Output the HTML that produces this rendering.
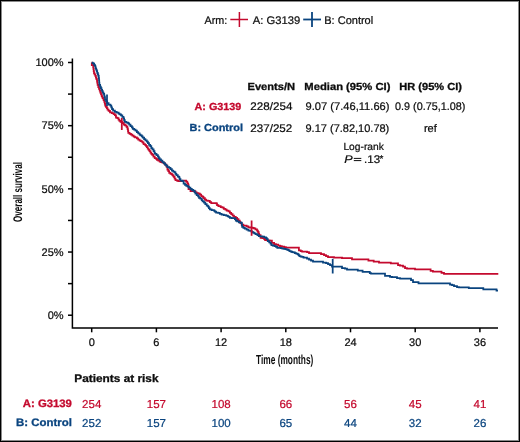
<!DOCTYPE html>
<html><head><meta charset="utf-8"><style>
html,body{margin:0;padding:0;background:#fff;}
body{width:520px;height:442px;overflow:hidden;}
svg{display:block;will-change:transform;text-rendering:geometricPrecision;font-family:"Liberation Sans",sans-serif;}
</style></head><body>
<svg width="520" height="442" viewBox="0 0 520 442">
<rect x="0" y="0" width="520" height="442" fill="#fff"/>
<rect x="1.5" y="1.5" width="517" height="439" fill="none" stroke="#8a8a8a" stroke-width="1"/>
<rect x="0.5" y="0.5" width="519" height="441" fill="none" stroke="#000" stroke-width="1"/>
<g stroke="#c40a2e" stroke-width="1.5"><line x1="230.3" y1="19.5" x2="248" y2="19.5"/><line x1="239.4" y1="12" x2="239.4" y2="27"/></g>
<g stroke="#0a447f" stroke-width="1.8"><line x1="303.2" y1="19.5" x2="321" y2="19.5"/><line x1="312" y1="12" x2="312" y2="27"/></g>
<g stroke="#000" stroke-width="1.5" fill="none">
<polyline points="72.4,58.5 72.4,328 498,328"/>
<line x1="68" y1="62.50" x2="72.4" y2="62.50"/><line x1="68" y1="94.09" x2="72.4" y2="94.09"/><line x1="68" y1="125.68" x2="72.4" y2="125.68"/><line x1="68" y1="157.27" x2="72.4" y2="157.27"/><line x1="68" y1="188.86" x2="72.4" y2="188.86"/><line x1="68" y1="220.45" x2="72.4" y2="220.45"/><line x1="68" y1="252.04" x2="72.4" y2="252.04"/><line x1="68" y1="283.63" x2="72.4" y2="283.63"/><line x1="68" y1="315.22" x2="72.4" y2="315.22"/><line x1="91.70" y1="328" x2="91.70" y2="332.3"/><line x1="156.40" y1="328" x2="156.40" y2="332.3"/><line x1="221.10" y1="328" x2="221.10" y2="332.3"/><line x1="285.80" y1="328" x2="285.80" y2="332.3"/><line x1="350.50" y1="328" x2="350.50" y2="332.3"/><line x1="415.20" y1="328" x2="415.20" y2="332.3"/><line x1="479.90" y1="328" x2="479.90" y2="332.3"/>
</g>
<g stroke="#0d0d0d" stroke-width="1"><line x1="353.8" y1="158.4" x2="361.3" y2="158.4"/><line x1="353.8" y1="160.6" x2="361.3" y2="160.6"/></g>
<text transform="translate(284.7,363.8) scale(0.641,1)" text-anchor="middle" font-size="13" font-weight="bold" fill="#0d0d0d">Time (months)</text>
<text transform="translate(22,192) rotate(-90) scale(0.642,1)" text-anchor="middle" font-size="12.5" font-weight="bold" fill="#0d0d0d">Overall survival</text>
<g fill="none" stroke-width="1.75">
<polyline stroke="#c40a2e" points="91.7,62.5 91.8,62.5 91.8,65 93.2,65 93.2,67.2 93.4,67.2 93.4,68.9 93.7,68.9 93.7,71 94,71 94,73.2 94.5,73.2 94.5,74.3 95.3,74.3 95.3,75.9 95.9,75.9 95.9,77.5 96.4,77.5 96.4,79.2 97,79.2 97,80.8 97.2,80.8 97.2,82.5 97.6,82.5 97.6,84.8 98.3,84.8 98.3,87 99,87 99,88.9 99.7,88.9 99.7,90.7 100.3,90.7 100.3,92.5 101,92.5 101,94.3 101.7,94.3 101.7,96.1 102.3,96.1 102.3,97.5 102.9,97.5 102.9,98.3 103.6,98.3 103.6,100.1 104.3,100.1 104.3,101.9 104.8,101.9 104.8,103.7 105.2,103.7 105.2,105.5 105.9,105.5 105.9,106.9 106.8,106.9 106.8,108.2 107.5,108.2 107.5,109.6 108.6,109.6 108.6,110.9 110,110.9 110,112.3 111.8,112.3 111.8,113.2 113.6,113.2 113.6,114.1 114.9,114.1 114.9,115 115.8,115 115.8,115.9 116,115.9 116,117.5 117.4,117.5 117.4,118.1 118.5,118.1 118.5,119.5 119.4,119.5 119.4,120.9 120.5,120.9 120.5,121.8 121.7,121.8 121.7,122.2 122.8,122.2 122.8,123.1 123.9,123.1 123.9,124.5 125,124.5 125,125.4 126.4,125.4 126.4,126.7 127.1,126.7 127.1,127.4 127.6,127.4 127.6,129.2 128,129.2 128,131 128.3,131 128.3,132.9 129.6,132.9 129.6,133.8 131,133.8 131,134.7 132.3,134.7 132.3,135.6 133.7,135.6 133.7,136.5 135,136.5 135,137.4 136.9,137.4 136.9,138.3 138.2,138.3 138.2,139.6 139.6,139.6 139.6,140.6 140.9,140.6 140.9,141.2 141.8,141.2 141.8,141.7 142.7,141.7 142.7,142.6 143.6,142.6 143.6,144 145,144 145,144.9 145.9,144.9 145.9,145.8 146.8,145.8 146.8,147.1 147.7,147.1 147.7,148.5 148.6,148.5 148.6,149.8 149.5,149.8 149.5,151.2 150.4,151.2 150.4,152.6 151.3,152.6 151.3,153.9 152.2,153.9 152.2,154.8 153.4,154.8 153.4,156.6 154.7,156.6 154.7,158 156.1,158 156.1,158.9 157,158.9 157,159.8 158.3,159.8 158.3,160.7 159.7,160.7 159.7,161.6 161,161.6 161,162 162.4,162 162.4,162.5 163.8,162.5 163.8,163.4 165.1,163.4 165.1,164.5 166.5,164.5 166.5,166.5 167.4,166.5 167.4,169.7 168.3,169.7 168.3,171 169.2,171 169.2,172.9 170.5,172.9 170.5,173.8 171.9,173.8 171.9,174.7 172.8,174.7 172.8,175.6 173.7,175.6 173.7,176.9 174.6,176.9 174.6,178.7 175.5,178.7 175.5,180.1 176.9,180.1 176.9,180.6 178.2,180.6 178.2,181 180,181 181.5,181 181.5,180.8 183.2,180.8 183.2,180.6 184.9,180.6 186.1,180.6 186.1,181.7 187.3,181.7 187.3,183.3 188.1,183.3 188.1,184.5 188.5,184.5 188.5,189 190.5,189 190.5,191 193.5,191 193.5,191.2 195.4,191.2 195.4,192.3 196.7,192.3 196.7,193.2 198.5,193.2 198.5,193.5 199.9,193.5 199.9,194.6 201.2,194.6 201.2,196 202.6,196 202.6,196.9 203.5,196.9 203.5,198.2 204.9,198.2 204.9,199.6 206.2,199.6 206.2,200.5 208,200.5 208,200.9 209.8,200.9 209.8,202.1 211.2,202.1 211.2,203 213.9,203 216.1,203 216.1,203.4 217,203.4 217,205.2 218.4,205.2 218.4,206.1 220.7,206.1 220.7,207 222.5,207 222.5,207.5 223.8,207.5 223.8,208.9 225.4,208.9 225.4,209.6 226.7,209.6 226.7,210.5 228.5,210.5 228.5,211.4 229.9,211.4 229.9,212.8 231.2,212.8 231.2,214.1 232.6,214.1 232.6,215.5 234,215.5 234,216.9 235.8,216.9 235.8,217.8 237.1,217.8 237.1,219.1 238.5,219.1 238.5,220.5 239.8,220.5 239.8,221.8 240.3,221.8 240.3,223.2 241.6,223.2 241.6,224.6 243.4,224.6 243.4,225.5 245.2,225.5 246.6,225.5 246.6,226.4 248.4,226.4 248.4,227.3 250.2,227.3 250.2,227.5 252.5,227.5 252.5,227.8 253.8,227.8 253.8,228.4 255.4,228.4 255.4,229.4 257,229.4 257,230.5 257.9,230.5 257.9,231.9 258.6,231.9 258.6,233.7 259.2,233.7 259.2,235 260.6,235 260.6,237.8 262.4,237.8 262.4,238.2 264.2,238.2 264.2,239.1 265.1,239.1 265.1,240 267.5,240 267.5,240.3 269.6,240.3 269.6,240.5 271.9,240.5 271.9,242.8 274.1,242.8 274.1,244.1 276,244.1 276,244.6 278.2,244.6 278.2,245.5 280,245.5 280,246 281.8,246 281.8,246.6 284.1,246.6 284.1,247.1 285.9,247.1 285.9,247.5 286.5,247.5 286.5,247.7 298.5,247.7 298.9,247.7 298.9,250.4 300.7,250.4 300.7,251 302.1,251 302.1,251.5 305,251.5 307,251.5 307,252 309,252 309,253 320,253 321,253 321,254 324,254 324,255 326,255 326,256 328,256 328,257 334,257 334,257.5 342,257.5 342,258.2 352,258.2 352,259.4 368.4,259.4 368.4,260.6 373.7,260.6 373.7,261.7 379,261.7 379,262.5 390.8,262.5 390.8,263.3 396.5,263.3 398,263.3 398,265 400,265 400,265.5 403,265.5 403,266.5 405,266.5 405,268 407,268 407,268.6 415,268.6 415,269.4 430.6,269.4 430.6,270.9 432.9,270.9 432.9,271.7 441.5,271.7 441.5,272.9 444,272.9 444,273.8 498.3,273.8"/>
<polyline stroke="#0a447f" points="91.7,62.5 92.5,62.5 92.5,63 93.4,63 93.4,63.7 94.2,63.7 94.2,65 95.1,65 95.1,66.4 95.6,66.4 95.6,68.3 96.1,68.3 96.1,69.7 96.7,69.7 96.7,71 97.2,71 97.2,72.9 97.8,72.9 97.8,74.3 98.3,74.3 98.3,75.9 98.75,75.9 98.75,78 99,78 99,80.3 99.2,80.3 99.2,82.5 99.4,82.5 99.4,84.8 100.1,84.8 100.1,86.6 100.8,86.6 100.8,88 101.5,88 101.5,89.8 102.1,89.8 102.1,91.1 102.8,91.1 102.8,92.5 103.5,92.5 103.5,93.8 104.2,93.8 104.2,95.6 104.5,95.6 104.5,97 105,97 105,99.6 106.1,99.6 106.1,101.4 107.2,101.4 107.2,103.2 108.6,103.2 108.6,104.6 110.4,104.6 110.4,105.5 111.3,105.5 111.3,107.3 112,107.3 112,109.1 113.1,109.1 113.1,110.5 114.9,110.5 114.9,111.8 116.7,111.8 116.7,112.7 118.6,112.7 118.6,113.6 119.6,113.6 119.6,114.3 121,114.3 121,115.4 122.3,115.4 122.3,116.8 123.5,116.8 123.5,118.4 124.1,118.4 124.1,120 124.8,120 124.8,121.8 126.4,121.8 126.4,122.7 128.2,122.7 128.2,123.4 129.2,123.4 129.2,124.7 130.5,124.7 130.5,126.1 131.9,126.1 131.9,127.4 132.8,127.4 132.8,128.8 134.1,128.8 134.1,129.7 135.5,129.7 135.5,130.6 136.9,130.6 136.9,132 138.2,132 138.2,133.3 139.6,133.3 139.6,134.7 140.5,134.7 140.5,135.4 141.8,135.4 141.8,136.3 142.7,136.3 142.7,137.6 144.1,137.6 144.1,139 145.4,139 145.4,140.3 146.8,140.3 146.8,141.7 147.9,141.7 147.9,143 149,143 149,144.9 150.2,144.9 150.2,146.2 151.3,146.2 151.3,148 152.4,148 152.4,149.4 153.6,149.4 153.6,151.2 154.5,151.2 154.5,153 155.2,153 155.2,153.9 156.5,153.9 156.5,155.2 157.9,155.2 157.9,156.6 158.8,156.6 158.8,158 159.7,158 159.7,159.3 161,159.3 161,160.7 162.4,160.7 162.4,162 163.8,162 163.8,163.4 165.1,163.4 165.1,164.7 166.2,164.7 166.2,165.5 167.4,165.5 167.4,167 169.2,167 169.2,167.9 170.5,167.9 170.5,169.2 171.9,169.2 171.9,170.6 173.2,170.6 173.2,171.5 174.6,171.5 174.6,172.4 175.5,172.4 175.5,173.8 176.4,173.8 176.4,175.1 177.8,175.1 177.8,176.5 179.1,176.5 179.1,177.4 179.6,177.4 179.6,179.2 180.5,179.2 180.5,180.6 182.3,180.6 182.3,181.2 183.6,181.2 183.6,183.5 185,183.5 185,184.9 186.3,184.9 186.3,185.8 187.7,185.8 187.7,186.7 189,186.7 189,187.6 190.4,187.6 190.4,188.9 191.8,188.9 191.8,189.8 193.1,189.8 193.1,190.7 194.5,190.7 194.5,192.1 195.4,192.1 195.4,193.7 196.7,193.7 196.7,195 198.1,195 198.1,196.4 199,196.4 199,197.8 200.3,197.8 200.3,198.7 201.7,198.7 201.7,200 202.6,200 202.6,201.4 204,201.4 204,202.7 205.3,202.7 205.3,204.1 206.7,204.1 206.7,205.5 208,205.5 208,206.6 208.9,206.6 208.9,208 209.8,208 209.8,209.3 211.6,209.3 211.6,210.2 213.9,210.2 213.9,210.7 214.8,210.7 214.8,211.6 216.1,211.6 216.1,212.5 218,212.5 218,212.9 219.8,212.9 219.8,213.8 221.6,213.8 221.6,214.7 223.8,214.7 223.8,215.2 226.1,215.2 226.1,215.6 227.6,215.6 227.6,216 228.5,216 228.5,216.9 229.9,216.9 229.9,217.8 231.7,217.8 231.7,218.2 233.5,218.2 234.9,218.2 234.9,219.1 235.8,219.1 235.8,220.5 237.1,220.5 237.1,221.4 238.9,221.4 238.9,222.3 240.7,222.3 240.7,222.7 241.6,222.7 241.6,223.2 241.9,223.2 241.9,225 242.1,225 242.1,226.9 243.4,226.9 243.4,227.8 244.8,227.8 244.8,228.7 246.6,228.7 246.6,229.6 248.4,229.6 248.4,230.5 250.2,230.5 250.2,230.9 251.6,230.9 251.6,231.8 252.9,231.8 252.9,232.7 254.3,232.7 254.3,233.4 255.6,233.4 255.6,234.2 257.4,234.2 257.4,235 258.8,235 258.8,236 260.1,236 260.1,236.4 262.4,236.4 262.4,236.6 264.2,236.6 264.2,237.3 266,237.3 266,238 266.9,238 266.9,239.2 267.8,239.2 267.8,241 269.2,241 269.2,242.3 270.5,242.3 270.5,243.7 271.4,243.7 271.4,245 272.8,245 272.8,245.5 274.6,245.5 274.6,246 276,246 276,246.9 277.3,246.9 277.3,247.8 279.1,247.8 280.9,247.8 280.9,248 282.3,248 282.3,248.7 284,248.7 284,248.8 285.4,248.8 285.4,249.2 286.7,249.2 286.7,249.7 288.1,249.7 288.1,250.1 289.4,250.1 289.4,251 290.8,251 290.8,251.5 292.1,251.5 292.1,252 293.5,252 293.5,252.4 294.9,252.4 294.9,253.1 296.2,253.1 296.2,253.5 297.6,253.5 297.6,254.2 298.5,254.2 298.5,255.1 299.4,255.1 299.4,256 300.7,256 300.7,256.5 302.1,256.5 302.1,256.9 303.5,256.9 303.5,257.6 305,257.6 305,257.7 307,257.7 307,258.5 309,258.5 309,259.5 311,259.5 311,260.5 313,260.5 313,261.5 321.5,261.5 323,261.5 323,262.5 326,262.5 326,263 328,263 328,264 330,264 330,265 332,265 332,266.5 340.4,266.5 342,266.5 342,268 345,268 345,268.5 347,268.5 347,269.7 357.8,269.7 357.8,270.7 362.6,270.7 362.6,271.9 369.8,271.9 369.8,273 371,273 371,273.6 383.3,273.6 385,273.6 385,275.8 390,275.8 390,276.9 392,276.9 392,277 397,277 397,278 400,278 400,278.7 409.8,278.7 411,278.7 411,280 413,280 413,282.1 418.5,282.1 418.5,283.3 449.2,283.3 450,283.3 450,284.5 452,284.5 452,285 454,285 454,286 457,286 457,287 459,287 459,287.3 468.8,287.3 468.8,288 483.3,288 483.3,289.4 496.5,289.4 496.5,290.6 498,290.6"/>
<line stroke="#0a447f" x1="107" y1="94.6" x2="107" y2="106"/>
<line stroke="#c40a2e" x1="121.8" y1="118" x2="121.8" y2="130"/>
<line stroke="#c40a2e" x1="251.6" y1="220.5" x2="251.6" y2="235.8"/>
<line stroke="#0a447f" x1="332.7" y1="258.8" x2="332.7" y2="273.5"/>
</g>
<text x="204.48" y="23.8" font-size="11" fill="#0d0d0d" stroke="#0d0d0d" stroke-width="0.22" textLength="22.78" lengthAdjust="spacingAndGlyphs">Arm:</text>
<text x="252.85" y="23.8" font-size="11" fill="#0d0d0d" stroke="#0d0d0d" stroke-width="0.22" textLength="47.50" lengthAdjust="spacingAndGlyphs">A: G3139</text>
<text x="324.27" y="23.8" font-size="11" fill="#0d0d0d" stroke="#0d0d0d" stroke-width="0.22">B: Control</text>
<text x="63.60" y="66.3" font-size="11" fill="#0d0d0d" text-anchor="end" stroke="#0d0d0d" stroke-width="0.22">100%</text>
<text x="63.60" y="129.48000000000002" font-size="11" fill="#0d0d0d" text-anchor="end" stroke="#0d0d0d" stroke-width="0.22">75%</text>
<text x="63.60" y="192.66000000000003" font-size="11" fill="#0d0d0d" text-anchor="end" stroke="#0d0d0d" stroke-width="0.22">50%</text>
<text x="63.60" y="255.84" font-size="11" fill="#0d0d0d" text-anchor="end" stroke="#0d0d0d" stroke-width="0.22">25%</text>
<text x="63.60" y="319.02000000000004" font-size="11" fill="#0d0d0d" text-anchor="end" stroke="#0d0d0d" stroke-width="0.22">0%</text>
<text x="91.70" y="346" font-size="11" fill="#0d0d0d" text-anchor="middle" stroke="#0d0d0d" stroke-width="0.22">0</text>
<text x="156.40" y="346" font-size="11" fill="#0d0d0d" text-anchor="middle" stroke="#0d0d0d" stroke-width="0.22">6</text>
<text x="221.10" y="346" font-size="11" fill="#0d0d0d" text-anchor="middle" stroke="#0d0d0d" stroke-width="0.22">12</text>
<text x="285.80" y="346" font-size="11" fill="#0d0d0d" text-anchor="middle" stroke="#0d0d0d" stroke-width="0.22">18</text>
<text x="350.50" y="346" font-size="11" fill="#0d0d0d" text-anchor="middle" stroke="#0d0d0d" stroke-width="0.22">24</text>
<text x="415.20" y="346" font-size="11" fill="#0d0d0d" text-anchor="middle" stroke="#0d0d0d" stroke-width="0.22">30</text>
<text x="479.90" y="346" font-size="11" fill="#0d0d0d" text-anchor="middle" stroke="#0d0d0d" stroke-width="0.22">36</text>
<text x="247.51" y="90.35" font-size="10.3" fill="#0d0d0d" font-weight="bold" stroke="#0d0d0d" stroke-width="0.3" textLength="47.65" lengthAdjust="spacingAndGlyphs">Events/N</text>
<text x="304.30" y="90.35" font-size="10.3" fill="#0d0d0d" font-weight="bold" stroke="#0d0d0d" stroke-width="0.3" textLength="86.17" lengthAdjust="spacingAndGlyphs">Median (95% CI)</text>
<text x="399.30" y="90.35" font-size="10.3" fill="#0d0d0d" font-weight="bold" stroke="#0d0d0d" stroke-width="0.3" textLength="62.66" lengthAdjust="spacingAndGlyphs">HR (95% CI)</text>
<text x="241.21" y="110.2" font-size="10.3" fill="#c40a2e" text-anchor="end" font-weight="bold" stroke="#c40a2e" stroke-width="0.3" textLength="46.65" lengthAdjust="spacingAndGlyphs">A: G3139</text>
<text x="242.94" y="131.3" font-size="10.3" fill="#0a447f" text-anchor="end" font-weight="bold" stroke="#0a447f" stroke-width="0.3" textLength="53.42" lengthAdjust="spacingAndGlyphs">B: Control</text>
<text x="250.34" y="110.3" font-size="11" fill="#0d0d0d" stroke="#0d0d0d" stroke-width="0.22" textLength="42.10" lengthAdjust="spacingAndGlyphs">228/254</text>
<text x="250.34" y="132.35" font-size="11" fill="#0d0d0d" stroke="#0d0d0d" stroke-width="0.22" textLength="41.96" lengthAdjust="spacingAndGlyphs">237/252</text>
<text x="305.46" y="110.3" font-size="11" fill="#0d0d0d" stroke="#0d0d0d" stroke-width="0.22" textLength="84.05" lengthAdjust="spacingAndGlyphs">9.07 (7.46,11.66)</text>
<text x="305.50" y="132.35" font-size="11" fill="#0d0d0d" stroke="#0d0d0d" stroke-width="0.22">9.17 (7.82,10.78)</text>
<text x="395.09" y="110.3" font-size="11" fill="#0d0d0d" stroke="#0d0d0d" stroke-width="0.22" textLength="70.33" lengthAdjust="spacingAndGlyphs">0.9 (0.75,1.08)</text>
<text x="423.96" y="132.35" font-size="11" fill="#0d0d0d" stroke="#0d0d0d" stroke-width="0.22">ref</text>
<text x="343.41" y="149.5" font-size="10.2" fill="#0d0d0d" stroke="#0d0d0d" stroke-width="0.22" textLength="40.46" lengthAdjust="spacingAndGlyphs">Log-rank</text>
<text x="344.27" y="162.6" font-size="11" fill="#0d0d0d" font-style="italic" stroke="#0d0d0d" stroke-width="0.22" textLength="8.46" lengthAdjust="spacingAndGlyphs">P</text>
<text x="364.02" y="162.6" font-size="11" fill="#0d0d0d" stroke="#0d0d0d" stroke-width="0.22" textLength="16.08" lengthAdjust="spacingAndGlyphs">.13</text>
<text x="379.60" y="161.6" font-size="10" fill="#0d0d0d" stroke="#0d0d0d" stroke-width="0.22">*</text>
<text x="74.31" y="382" font-size="10.9" fill="#0d0d0d" font-weight="bold" stroke="#0d0d0d" stroke-width="0.3" textLength="84.24" lengthAdjust="spacingAndGlyphs">Patients at risk</text>
<text x="71.93" y="406.9" font-size="10.8" fill="#c40a2e" text-anchor="end" font-weight="bold" stroke="#c40a2e" stroke-width="0.3" textLength="49.14" lengthAdjust="spacingAndGlyphs">A: G3139</text>
<text x="71.87" y="426.3" font-size="10.8" fill="#0a447f" text-anchor="end" font-weight="bold" stroke="#0a447f" stroke-width="0.3" textLength="55.82" lengthAdjust="spacingAndGlyphs">B: Control</text>
<text x="91.70" y="407.95" font-size="11.5" fill="#c40a2e" text-anchor="middle" stroke="#c40a2e" stroke-width="0.22">254</text>
<text x="91.70" y="426.6" font-size="11.5" fill="#0a447f" text-anchor="middle" stroke="#0a447f" stroke-width="0.22">252</text>
<text x="156.40" y="407.95" font-size="11.5" fill="#c40a2e" text-anchor="middle" stroke="#c40a2e" stroke-width="0.22">157</text>
<text x="156.40" y="426.6" font-size="11.5" fill="#0a447f" text-anchor="middle" stroke="#0a447f" stroke-width="0.22">157</text>
<text x="221.10" y="407.95" font-size="11.5" fill="#c40a2e" text-anchor="middle" stroke="#c40a2e" stroke-width="0.22">108</text>
<text x="221.10" y="426.6" font-size="11.5" fill="#0a447f" text-anchor="middle" stroke="#0a447f" stroke-width="0.22">100</text>
<text x="285.80" y="407.95" font-size="11.5" fill="#c40a2e" text-anchor="middle" stroke="#c40a2e" stroke-width="0.22">66</text>
<text x="285.80" y="426.6" font-size="11.5" fill="#0a447f" text-anchor="middle" stroke="#0a447f" stroke-width="0.22">65</text>
<text x="350.50" y="407.95" font-size="11.5" fill="#c40a2e" text-anchor="middle" stroke="#c40a2e" stroke-width="0.22">56</text>
<text x="350.50" y="426.6" font-size="11.5" fill="#0a447f" text-anchor="middle" stroke="#0a447f" stroke-width="0.22">44</text>
<text x="415.20" y="407.95" font-size="11.5" fill="#c40a2e" text-anchor="middle" stroke="#c40a2e" stroke-width="0.22">45</text>
<text x="415.20" y="426.6" font-size="11.5" fill="#0a447f" text-anchor="middle" stroke="#0a447f" stroke-width="0.22">32</text>
<text x="479.90" y="407.95" font-size="11.5" fill="#c40a2e" text-anchor="middle" stroke="#c40a2e" stroke-width="0.22">41</text>
<text x="479.90" y="426.6" font-size="11.5" fill="#0a447f" text-anchor="middle" stroke="#0a447f" stroke-width="0.22">26</text>
</svg>
</body></html>
